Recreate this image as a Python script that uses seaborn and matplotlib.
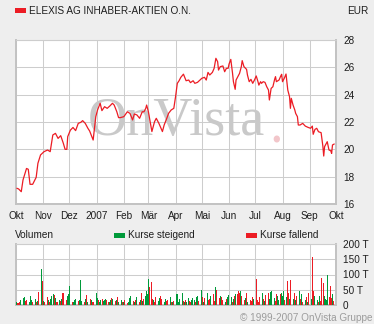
import numpy as np
import pandas as pd
import matplotlib
matplotlib.use("Agg")
import matplotlib.pyplot as plt
from matplotlib.patches import Rectangle
import seaborn as sns

# ---------------- data ----------------
title = "ELEXIS AG INHABER-AKTIEN O.N."
currency = "EUR"
month_ticks = ["2006-10-01", "2006-11-01", "2006-12-01", "2007-01-01", "2007-02-01",
               "2007-03-01", "2007-04-01", "2007-05-01", "2007-06-01", "2007-07-01",
               "2007-08-01", "2007-09-01", "2007-10-01"]
month_labels = ["Okt", "Nov", "Dez", "2007", "Feb", "Mär", "Apr", "Mai", "Jun", "Jul",
                "Aug", "Sep", "Okt"]
price_ticks = [16, 18, 20, 22, 24, 26, 28]
volume_ticks = [0, 50, 100, 150, 200]
volume_tick_labels = ["0", "50 T", "100 T", "150 T", "200 T"]
legend_labels = ["Volumen", "Kurse steigend", "Kurse fallend"]
copyright_text = "© 1999-2007 OnVista Gruppe"

price_dates = [
    "2006-10-02", "2006-10-04", "2006-10-07", "2006-10-09", "2006-10-13", "2006-10-15",
    "2006-10-17", "2006-10-20", "2006-10-24", "2006-10-26", "2006-10-29", "2006-11-02",
    "2006-11-06", "2006-11-09", "2006-11-12", "2006-11-15", "2006-11-18", "2006-11-21",
    "2006-11-24", "2006-11-26", "2006-11-28", "2006-11-29", "2006-12-02", "2006-12-05",
    "2006-12-08", "2006-12-11", "2006-12-14", "2006-12-16", "2006-12-19", "2006-12-21",
    "2006-12-22", "2006-12-24", "2006-12-28", "2006-12-31", "2007-01-02", "2007-01-05",
    "2007-01-07", "2007-01-10", "2007-01-13", "2007-01-16", "2007-01-19", "2007-01-21",
    "2007-01-24", "2007-01-26", "2007-01-28", "2007-02-01", "2007-02-05", "2007-02-08",
    "2007-02-11", "2007-02-13", "2007-02-16", "2007-02-19", "2007-02-22", "2007-02-24",
    "2007-02-26", "2007-02-27", "2007-03-01", "2007-03-03", "2007-03-05", "2007-03-08",
    "2007-03-10", "2007-03-13", "2007-03-17", "2007-03-19", "2007-03-22", "2007-03-24",
    "2007-03-27", "2007-03-30", "2007-04-01", "2007-04-03", "2007-04-05", "2007-04-07",
    "2007-04-10", "2007-04-13", "2007-04-16", "2007-04-18", "2007-04-21", "2007-04-23",
    "2007-04-26", "2007-04-28", "2007-05-01", "2007-05-04", "2007-05-06", "2007-05-08",
    "2007-05-10", "2007-05-13", "2007-05-15", "2007-05-17", "2007-05-19", "2007-05-20",
    "2007-05-22", "2007-05-25", "2007-05-27", "2007-05-29", "2007-05-31", "2007-06-01",
    "2007-06-03", "2007-06-05", "2007-06-06", "2007-06-08", "2007-06-09", "2007-06-11",
    "2007-06-13", "2007-06-15", "2007-06-16", "2007-06-18", "2007-06-21", "2007-06-22",
    "2007-06-24", "2007-06-26", "2007-06-28", "2007-06-30", "2007-07-02", "2007-07-04",
    "2007-07-05", "2007-07-07", "2007-07-08", "2007-07-10", "2007-07-12", "2007-07-14",
    "2007-07-16", "2007-07-17", "2007-07-19", "2007-07-21", "2007-07-23", "2007-07-24",
    "2007-07-25", "2007-07-28", "2007-07-30", "2007-07-31", "2007-08-01", "2007-08-03",
    "2007-08-05", "2007-08-06", "2007-08-07", "2007-08-09", "2007-08-10", "2007-08-11",
    "2007-08-13", "2007-08-15", "2007-08-16", "2007-08-18", "2007-08-19", "2007-08-21",
    "2007-08-24", "2007-08-27", "2007-08-30", "2007-09-02", "2007-09-04", "2007-09-05",
    "2007-09-07", "2007-09-09", "2007-09-11", "2007-09-14", "2007-09-16", "2007-09-17",
    "2007-09-18", "2007-09-20", "2007-09-21", "2007-09-23", "2007-09-25", "2007-09-26",
    "2007-09-27", "2007-09-29",
]
price_values = [
    17.15, 17.10, 16.90, 17.76, 18.60, 18.54,
    17.44, 17.44, 17.95, 18.98, 19.59, 19.83,
    19.95, 19.83, 21.05, 21.17, 20.80, 21.00,
    20.44, 20.00, 20.00, 20.93, 21.40, 21.60,
    21.37, 21.90, 21.98, 22.10, 21.90, 21.66,
    21.54, 21.34, 20.68, 22.39, 22.88, 23.37,
    22.83, 23.12, 23.00, 23.17, 23.37, 23.24,
    22.75, 22.32, 22.32, 22.39, 22.75, 22.63,
    22.15, 22.59, 22.51, 22.27, 22.75, 22.75,
    23.00, 23.24, 22.75, 22.02, 21.30, 22.02,
    22.27, 21.90, 21.30, 21.78, 22.27, 22.63,
    22.88, 23.00, 23.85, 24.83, 25.02, 25.27,
    25.50, 25.02, 25.07, 24.88, 25.02, 24.83,
    24.90, 25.02, 25.20, 25.27, 25.07, 25.63,
    25.44, 25.63, 25.93, 26.66, 26.41, 25.80,
    26.05, 26.10, 25.68, 25.93, 25.93, 26.24,
    26.58, 25.56, 24.95, 24.39, 25.07, 25.32,
    25.56, 26.05, 26.49, 26.05, 25.85, 25.44,
    24.95, 25.12, 24.83, 25.07, 25.37, 24.95,
    24.70, 24.95, 24.83, 24.95, 24.90, 24.58,
    24.34, 23.61, 24.46, 24.58, 25.12, 25.32,
    24.95, 25.07, 25.37, 25.49, 24.95, 25.20,
    25.51, 24.95, 24.34, 23.85, 23.00, 23.73,
    23.24, 22.88, 22.63, 22.39, 21.78, 21.78,
    21.90, 21.70, 21.61, 21.54, 21.70, 21.10,
    21.46, 21.54, 21.29, 21.22, 20.24, 19.51,
    20.20, 20.44, 20.56, 19.95, 19.90, 19.70,
    20.32, 20.39,
]

# daily volume in thousands (trading days from 2006-10-02), g = rising, r = falling
volumes = [
    # Okt
    10, 5, 5, 8, 14, 22, 22, 25, 12, 14, 8, 24, 28, 16, 10, 18, 8, 14, 12, 42, 118, 78,
    # Nov
    12, 22, 8, 26, 14, 8, 20, 30, 37, 33, 22, 10, 8, 14, 12, 20, 40, 40, 28, 14, 30, 34,
    # Dez
    62, 10, 6, 8, 14, 20, 12, 16, 22, 81, 12, 8, 20, 32, 12, 8, 20, 14, 10, 8, 6,
    # Jan
    38, 22, 14, 10, 16, 18, 12, 14, 20, 16, 10, 8, 14, 22, 18, 12, 8, 16, 24, 10, 14, 8, 12,
    # Feb
    10, 14, 6, 8, 22, 18, 30, 12, 10, 14, 26, 22, 10, 16, 40, 12, 20, 30, 45, 36,
    # Mar
    85, 60, 76, 20, 14, 10, 26, 16, 12, 22, 30, 18, 8, 16, 20, 12, 14, 24, 10, 18, 8, 12,
    # Apr
    34, 35, 10, 20, 16, 38, 12, 8, 14, 10, 22, 12, 8, 16, 22, 14, 10, 26, 30, 12, 18,
    # Mai
    49, 24, 10, 22, 40, 32, 14, 20, 30, 36, 12, 18, 58, 48, 22, 30, 26, 36, 14, 8, 20, 26, 32,
    # Jun
    30, 24, 10, 20, 28, 34, 36, 44, 40, 46, 30, 12, 16, 22, 38, 10, 14, 20, 12, 26, 18,
    # Jul
    84, 14, 12, 10, 26, 40, 20, 12, 30, 32, 38, 20, 42, 46, 14, 22, 12, 34, 28, 16, 36, 40,
    # Aug
    30, 44, 16, 26, 78, 40, 20, 82, 28, 20, 38, 14, 30, 44, 22, 18, 36, 10, 16, 26, 8, 20, 38,
    # Sep
    18, 159, 45, 30, 10, 14, 8, 28, 12, 89, 71, 28, 18, 14, 98, 26, 62, 22, 35, 12,
]
directions = (
    "grrrggggrrggggrgrggrgr"
    "ggrrgrgggrgrrgrgrrrrgg"
    "grrgggrgrggrgrrgrgrrr"
    "ggrggrgggrrggrgrrgrggrg"
    "grrggrgrgrggrgrgrggg"
    "grrrgrrgggrrgrgrrgrggr"
    "ggggrgrgrggrrgggrggrg"
    "grgrggrrgrrggrrgrgrgrgg"
    "rgrgrgrrrgrgrgrgrgrrg"
    "rrgrrgrgrrrgggrgrrggrg"
    "ggrgrrgrrgrgrggrgrgrgrr"
    "grrgrgrgrrrggggrrrgr"
)

# ---------------- style ----------------
sns.set_style("white")
plt.rcParams["font.family"] = ["Liberation Sans", "DejaVu Sans"]

RED = "#EC1C24"
GREEN = "#009A3A"
GRID = "#CDCDCD"
FRAME = "#C2C2C2"
BG = "#EEEEEE"
TXT = "#1E1E1E"
FS = 7.2

W, H = 374, 324
fig = plt.figure(figsize=(W / 100, H / 100), dpi=100, facecolor=BG)


def fx(x):
    return x / W


def fy(y):
    return 1 - y / H


ax = fig.add_axes([fx(16), fy(204), fx(336) - fx(16), fy(40) - fy(204)])
axv = fig.add_axes([fx(16), fy(304.7), fx(336) - fx(16), fy(244.3) - fy(304.7)])

tick_dates = pd.to_datetime(month_ticks)
xmin, xmax = tick_dates[0], tick_dates[-1]

# price line
price_df = pd.DataFrame({"date": pd.to_datetime(price_dates), "price": price_values})
sns.lineplot(data=price_df, x="date", y="price", ax=ax, color=RED, linewidth=0.9, zorder=3)

# watermark
ax.text(0.5, 0.5, "OnVista", transform=ax.transAxes, ha="center", va="center",
        fontsize=39, family=["Liberation Serif", "DejaVu Serif"], color="#C9C9C9", zorder=1)
ax.text(0.812, 0.375, ".", transform=ax.transAxes, ha="center", va="baseline",
        fontsize=39, family=["Liberation Serif", "DejaVu Serif"], color="#F2C6CA", zorder=1)

# volume bars
vol_dates = pd.bdate_range("2006-10-02", periods=len(volumes))
vol_df = pd.DataFrame({"date": vol_dates, "vol": volumes,
                       "dir": list(directions[:len(volumes)])})
for d, col in (("g", GREEN), ("r", RED)):
    sub = vol_df[vol_df["dir"] == d]
    axv.bar(sub["date"], sub["vol"], width=1.0, color=col, linewidth=0, zorder=3,
            antialiased=False)

for a in (ax, axv):
    a.set_facecolor("white")
    a.set_xlim(xmin, xmax)
    a.set_xticks(tick_dates)
    a.grid(True, color=GRID, linewidth=0.75, zorder=0)
    a.set_axisbelow(True)
    a.yaxis.tick_right()
    a.tick_params(axis="both", length=0, labelsize=FS, colors=TXT)
    a.tick_params(axis="y", pad=5)
    a.set_xlabel("")
    a.set_ylabel("")
    for side in ("left", "right", "bottom"):
        a.spines[side].set_visible(True)
        a.spines[side].set_color(FRAME)
        a.spines[side].set_linewidth(1.4)
    a.spines["top"].set_visible(True)
    a.spines["top"].set_color(GRID)
    a.spines["top"].set_linewidth(0.8)

ax.set_ylim(price_ticks[0], price_ticks[-1])
ax.set_yticks(price_ticks)
ax.set_yticklabels([str(t) for t in price_ticks])
ax.set_xticklabels(month_labels)
ax.tick_params(axis="x", pad=5)

axv.set_ylim(volume_ticks[0], volume_ticks[-1])
axv.set_yticks(volume_ticks)
axv.set_yticklabels(volume_tick_labels)
axv.set_xticklabels([])

# header
fig.add_artist(Rectangle((fx(15), fy(12.7)), fx(11), fy(8.3) - fy(12.7),
                         transform=fig.transFigure, color=RED, linewidth=0))
fig.text(fx(29), fy(10.5), title, ha="left", va="center", fontsize=FS, color=TXT)
fig.text(fx(368), fy(10.5), currency, ha="right", va="center", fontsize=FS, color=TXT)

# volume legend
fig.text(fx(15), fy(235), legend_labels[0], ha="left", va="center", fontsize=FS, color=TXT)
fig.add_artist(Rectangle((fx(114.3), fy(237.7)), fx(10.7), fy(232.7) - fy(237.7),
                         transform=fig.transFigure, color=GREEN, linewidth=0))
fig.text(fx(128.3), fy(235), legend_labels[1], ha="left", va="center", fontsize=FS, color=TXT)
fig.add_artist(Rectangle((fx(246), fy(237.7)), fx(10.7), fy(232.7) - fy(237.7),
                         transform=fig.transFigure, color=RED, linewidth=0))
fig.text(fx(260), fy(235), legend_labels[2], ha="left", va="center", fontsize=FS, color=TXT)

fig.text(fx(372), fy(318.3), copyright_text, ha="right", va="center", fontsize=FS,
         color="#9C9C9C")

fig.savefig("out.png", dpi=100, facecolor=BG)
